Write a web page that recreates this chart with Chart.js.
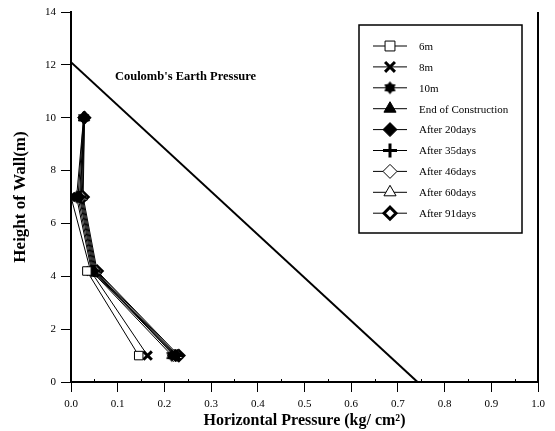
<!DOCTYPE html>
<html>
<head>
<meta charset="utf-8">
<script src="https://cdn.jsdelivr.net/npm/chart.js@4.4.1/dist/chart.umd.min.js"></script>
<style>
  html, body { margin: 0; padding: 0; background: #fff; }
</style>
</head>
<body>
<canvas id="viz" width="555" height="431"></canvas>
<script>
// Gauge heights on the wall (m)
const heights = [1, 4.2, 7, 10];

// Horizontal pressure (kg/cm2) at each gauge, per stage
// (lower fills only reach the lower gauges)
const p6m  = [0.145, 0.034];
const p8m  = [0.164, 0.042, 0.000];
const p10m = [0.216, 0.044, 0.012, 0.027];
const pEnd = [0.222, 0.046, 0.015, 0.027];
const p20d = [0.224, 0.048, 0.018, 0.028];
const p35d = [0.226, 0.050, 0.020, 0.028];
const p46d = [0.220, 0.052, 0.022, 0.028];
const p60d = [0.228, 0.054, 0.024, 0.029];
const p91d = [0.231, 0.056, 0.026, 0.029];

// Coulomb's earth pressure line (pressure, height)
const coulombP = [0, 0.742];
const coulombH = [12.1, 0];

const xTicks = [0, 0.1, 0.2, 0.3, 0.4, 0.5, 0.6, 0.7, 0.8, 0.9, 1.0];
const yTicks = [0, 2, 4, 6, 8, 10, 12, 14];

const serif = "'Liberation Serif', 'Times New Roman', serif";

// filled six pointed star used for the 10m readings
function starImage(r) {
  const c = document.createElement('canvas');
  const s = Math.ceil(r * 2 + 2);
  c.width = s; c.height = s;
  const g = c.getContext('2d');
  g.fillStyle = '#000';
  g.beginPath();
  for (let i = 0; i < 12; i++) {
    const a = -Math.PI / 2 + i * Math.PI / 6;
    const rr = i % 2 === 0 ? r : r * 0.65;
    const px = s / 2 + Math.cos(a) * rr, py = s / 2 + Math.sin(a) * rr;
    if (i === 0) g.moveTo(px, py); else g.lineTo(px, py);
  }
  g.closePath();
  g.fill();
  return c;
}

function pts(vals) {
  return vals.map((v, i) => ({ x: v, y: heights[i] }));
}

function series(label, vals, style) {
  return Object.assign({
    label: label,
    data: pts(vals),
    borderColor: '#000',
    borderWidth: 1,
    pointBorderColor: '#000',
    pointBackgroundColor: '#000',
    pointBorderWidth: 1,
    pointRadius: 5,
    fill: false,
    tension: 0
  }, style);
}

const datasets = [
  series('6m', p6m, { pointStyle: 'rect', pointRadius: 6, pointBackgroundColor: '#fff' }),
  series('8m', p8m, { pointStyle: 'crossRot', pointRadius: 6, pointBorderWidth: 3 }),
  series('10m', p10m, { pointStyle: starImage(6.5) }),
  series('End of Construction', pEnd, { pointStyle: 'triangle', pointRadius: 6 }),
  series('After 20days', p20d, { pointStyle: 'rectRot', pointRadius: 6 }),
  series('After 35days', p35d, { pointStyle: 'cross', pointRadius: 6, pointBorderWidth: 3 }),
  series('After 46days', p46d, { pointStyle: 'rectRot', pointRadius: 6, pointBackgroundColor: '#fff' }),
  series('After 60days', p60d, { pointStyle: 'triangle', pointRadius: 6, pointBackgroundColor: '#fff' }),
  series('After 91days', p91d, { pointStyle: 'rectRot', pointRadius: 5, pointBorderWidth: 3, pointBackgroundColor: '#fff' }),
  {
    label: 'coulomb',
    data: coulombP.map((v, i) => ({ x: v, y: coulombH[i] })),
    borderColor: '#000',
    borderWidth: 2,
    pointRadius: 0,
    fill: false
  }
];

// legend box in the upper right of the plot, line sample with marker
const boxLegend = {
  id: 'boxLegend',
  afterDraw(chart) {
    const ctx = chart.ctx;
    const area = chart.chartArea;
    const left = area.right - 179, top = area.top + 13;
    const w = 163, h = 208;
    ctx.save();
    ctx.strokeStyle = '#000';
    ctx.lineWidth = 1.5;
    ctx.strokeRect(left, top, w, h);
    ctx.font = '11px ' + serif;
    ctx.textBaseline = 'middle';
    ctx.fillStyle = '#000';
    const items = chart.data.datasets.filter(d => d.label !== 'coulomb');
    items.forEach((d, i) => {
      const y = top + 21 + i * 20.9;
      ctx.strokeStyle = '#000';
      ctx.lineWidth = 1;
      ctx.beginPath();
      ctx.moveTo(left + 14, y);
      ctx.lineTo(left + 48, y);
      ctx.stroke();
      ctx.fillStyle = d.pointBackgroundColor;
      ctx.strokeStyle = '#000';
      ctx.lineWidth = d.pointBorderWidth;
      Chart.helpers.drawPoint(ctx, {
        pointStyle: d.pointStyle,
        radius: d.pointRadius + 1,
        rotation: 0,
        borderWidth: d.pointBorderWidth
      }, left + 31, y);
      ctx.fillStyle = '#000';
      ctx.fillText(d.label, left + 60, y + 1);
    });
    ctx.restore();
  }
};

// right frame, minor ticks and the Coulomb label
const frameAndNotes = {
  id: 'frameAndNotes',
  afterDraw(chart) {
    const ctx = chart.ctx;
    const area = chart.chartArea;
    const xs = chart.scales.x, ys = chart.scales.y;
    ctx.save();
    ctx.strokeStyle = '#000';
    ctx.lineWidth = 2;
    ctx.beginPath();
    ctx.moveTo(area.right, area.top);
    ctx.lineTo(area.right, area.bottom);
    ctx.stroke();

    ctx.lineWidth = 1;
    ctx.beginPath();
    for (let v = 0.05; v < 1; v += 0.1) {
      const px = Math.round(xs.getPixelForValue(v)) + 0.5;
      ctx.moveTo(px, area.bottom);
      ctx.lineTo(px, area.bottom - 3);
    }
    ctx.stroke();

    ctx.fillStyle = '#000';
    ctx.font = 'bold 12.5px ' + serif;
    ctx.textBaseline = 'middle';
    ctx.fillText("Coulomb's Earth Pressure", xs.getPixelForValue(0.094), ys.getPixelForValue(11.55));
    ctx.restore();
  }
};

const ctx = document.getElementById('viz');
new Chart(ctx, {
  type: 'line',
  data: { datasets: datasets },
  options: {
    responsive: false,
    animation: false,
    layout: { padding: { top: 12, right: 17, left: 0, bottom: 0 } },
    plugins: {
      legend: { display: false },
      tooltip: { enabled: false }
    },
    scales: {
      x: {
        type: 'linear',
        min: 0,
        max: 1,
        afterBuildTicks: s => { s.ticks = xTicks.map(v => ({ value: v })); },
        afterFit: s => { s.height = 49; },
        ticks: {
          color: '#000',
          font: { family: serif, size: 11 },
          padding: 6,
          maxRotation: 0,
          callback: v => v.toFixed(1)
        },
        grid: { drawOnChartArea: false, tickLength: 10, tickColor: '#000', tickWidth: 1 },
        border: { color: '#000', width: 2 },
        title: {
          display: true,
          text: 'Horizontal Pressure (kg/ cm²)',
          color: '#000',
          font: { family: serif, size: 16, weight: 'bold' },
          padding: { top: 0, bottom: 1 }
        }
      },
      y: {
        type: 'linear',
        min: 0,
        max: 14,
        afterBuildTicks: s => { s.ticks = yTicks.map(v => ({ value: v })); },
        afterFit: s => { s.width = 71; },
        ticks: {
          color: '#000',
          font: { family: serif, size: 11 },
          padding: 5
        },
        grid: { drawOnChartArea: false, tickLength: 10, tickColor: '#000', tickWidth: 1 },
        border: { color: '#000', width: 2 },
        title: {
          display: true,
          text: 'Height of Wall(m)',
          color: '#000',
          font: { family: serif, size: 17, weight: 'bold' },
          padding: { top: 10, bottom: 0 }
        }
      }
    }
  },
  plugins: [boxLegend, frameAndNotes]
});
</script>
</body>
</html>
